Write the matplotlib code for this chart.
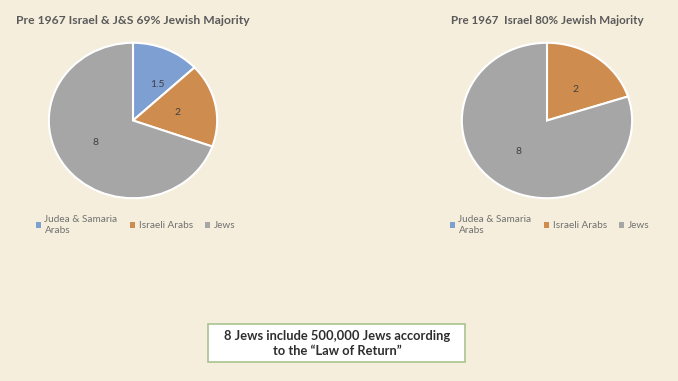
import matplotlib
matplotlib.use("Agg")
import matplotlib.pyplot as plt
from matplotlib.patches import Patch, FancyBboxPatch

categories = ["Judea & Samaria\nArabs", "Israeli Arabs", "Jews"]
left_values = [1.5, 2, 8]
right_values = [0, 2, 8]
left_title = "Pre 1967 Israel & J&S 69% Jewish Majority"
right_title = "Pre 1967  Israel 80% Jewish Majority"
note = "8 Jews include 500,000 Jews according\nto the \u201cLaw of Return\u201d"

colors = ["#7e9fd2", "#cf8c4f", "#a6a6a6"]
bg = "#f5eedc"
W, H = 678, 381

plt.rcParams["font.family"] = ["Lato", "DejaVu Sans"]
fig = plt.figure(figsize=(W / 100, H / 100), dpi=100, facecolor=bg)


def add_pie(cx, cy, rx, ry, values, title, title_x, leg_x, title_fs):
    ax = fig.add_axes([(cx - rx) / W, 1 - (cy + ry) / H, 2 * rx / W, 2 * ry / H])
    ax.set_facecolor("none")
    labels = [("%g" % v) if v else "" for v in values]
    wedges, texts = ax.pie(values, colors=colors, startangle=90, counterclock=False,
                           labels=labels, labeldistance=0.5,
                           wedgeprops=dict(edgecolor="white", linewidth=1.5),
                           textprops=dict(fontsize=7.5, color="#404040"))
    ax.set_aspect("auto")
    ax.set_xlim(-1.01, 1.01)
    ax.set_ylim(-1.01, 1.01)
    fig.text(title_x / W, 1 - 21 / H, title, ha="center", va="center",
             fontsize=title_fs, fontweight="bold", color="#5a5a5a")
    handles = [Patch(facecolor=c, edgecolor="none") for c in colors]
    leg = fig.legend(handles, categories, loc="upper left",
                     bbox_to_anchor=(leg_x / W, 1 - 215 / H), ncol=3, frameon=False,
                     fontsize=7.2, labelcolor="#707070", handlelength=0.45, handleheight=0.45,
                     handletextpad=0.4, columnspacing=1.25, borderpad=0, borderaxespad=0,
                     labelspacing=0.1)
    for t in leg.get_texts():
        t.set_linespacing(1.25)


add_pie(133, 120.5, 85, 78.5, left_values, left_title, 133, 36, 8.7)
add_pie(547, 120.5, 86, 78.5, right_values, right_title, 547, 450, 8.4)

box = FancyBboxPatch((208 / W, 1 - 362 / H), (465 - 208) / W, (362 - 324) / H,
                     boxstyle="square,pad=0", transform=fig.transFigure,
                     facecolor="white", edgecolor="#a9c48f", linewidth=1.2)
fig.patches.append(box)
fig.text(337 / W, 1 - 343.5 / H, note, ha="center", va="center", fontsize=9.3,
         fontweight="bold", color="#2e2e2e", linespacing=1.35)

fig.savefig("out.png", dpi=100, facecolor=bg)
